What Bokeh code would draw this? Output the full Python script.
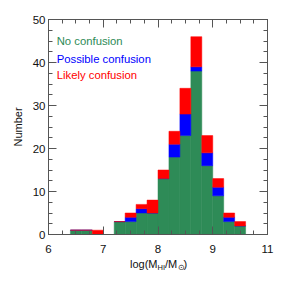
from bokeh.plotting import figure
from bokeh.layouts import column
from bokeh.models import FixedTicker, LinearAxis, Label, Range1d, ColumnDataSource
from bokeh.core.properties import value
from bokeh.embed import file_html
from bokeh.resources import INLINE

# Histogram bins (left edges, width 0.2 in log(MHI/Msun))
bin_left = [6.4, 6.6, 6.8, 7.0, 7.2, 7.4, 7.6, 7.8, 8.0, 8.2, 8.4, 8.6, 8.8, 9.0, 9.2, 9.4]
bin_width = 0.2
no_confusion = [1, 1, 0, 0, 3, 3, 5, 5, 13, 18, 23, 38, 16, 9, 3, 2]
possible_confusion = [0, 0, 0, 0, 0, 1, 1, 0, 0, 3, 5, 1, 3, 2, 1, 0]
likely_confusion = [0, 0, 1, 0, 0, 1, 1, 3, 2, 3, 6, 7, 4, 2, 1, 1]

x_ticks = [6, 7, 8, 9, 10]
x_tick_labels = {10: "11"}
y_ticks = [0, 10, 20, 30, 40, 50]

series_names = ["No confusion", "Possible confusion", "Likely confusion"]
colors = ["#2E8B57", "#0000FF", "#FF0000"]

src = ColumnDataSource(dict(
    x=[b + bin_width / 2 for b in bin_left],
    green=no_confusion, blue=possible_confusion, red=likely_confusion,
))

W = 283
BL, BR = 48, 16
H1 = 259
p = figure(width=W, height=H1, x_range=Range1d(6, 10), y_range=Range1d(0, 50),
           output_backend="svg", toolbar_location=None,
           min_border_left=BL, min_border_right=BR, min_border_top=19, min_border_bottom=25)

p.vbar_stack(["green", "blue", "red"], x="x", width=bin_width, color=colors,
             line_color=colors, line_width=0.5, source=src)

p.xgrid.visible = False
p.ygrid.visible = False
axis_col = "#555555"
p.outline_line_color = axis_col
p.background_fill_color = "white"
p.border_fill_color = "white"

x_minor = [6 + i * 0.25 for i in range(17)]
y_minor = [i * 2.5 for i in range(21)]
FONT = "Liberation Sans"

def style_axis(ax):
    ax.axis_line_color = axis_col
    ax.major_tick_line_color = axis_col
    ax.minor_tick_line_color = axis_col
    ax.major_tick_in = 8
    ax.major_tick_out = 0
    ax.minor_tick_in = 4
    ax.minor_tick_out = 0
    ax.major_label_text_font = FONT
    ax.major_label_text_font_size = "11.5px"
    ax.major_label_text_color = "#111111"
    ax.major_label_standoff = 4

xb = p.xaxis[0]
xb.ticker = FixedTicker(ticks=x_ticks, minor_ticks=x_minor)
xb.major_label_overrides = x_tick_labels
style_axis(xb)
xb.major_label_standoff = 10

yl = p.yaxis[0]
yl.ticker = FixedTicker(ticks=y_ticks, minor_ticks=y_minor)
style_axis(yl)
yl.major_label_standoff = 3
yl.axis_label = "Number"
yl.axis_label_text_font = FONT
yl.axis_label_text_font_size = "11px"
yl.axis_label_text_font_style = "normal"
yl.axis_label_text_color = "#111111"
yl.axis_label_standoff = 6

xt = LinearAxis(ticker=FixedTicker(ticks=x_ticks, minor_ticks=x_minor))
style_axis(xt)
xt.major_label_overrides = {t: "" for t in x_ticks}
xt.major_label_standoff = 0
p.add_layout(xt, "above")
yr = LinearAxis(ticker=FixedTicker(ticks=y_ticks, minor_ticks=y_minor))
style_axis(yr)
yr.major_label_overrides = {t: "" for t in y_ticks}
yr.major_label_standoff = 0
p.add_layout(yr, "right")

# legend texts
leg_y = [44.9, 40.9, 37.0]
for name, c, yy in zip(series_names, colors, leg_y):
    p.add_layout(Label(x=6.15, y=yy, text=name, text_color=c, text_font=FONT,
                       text_font_size="11.3px", text_baseline="middle"))

# x axis label strip: log(M_HI/M_sun), anchored at x=8 (centre of the axis label)
H2 = 24
p2 = figure(width=W, height=H2, x_range=Range1d(6, 10), y_range=Range1d(H2, 0),
            output_backend="svg", toolbar_location=None, x_axis_type=None, y_axis_type=None,
            min_border_left=BL, min_border_right=BR, min_border_top=0, min_border_bottom=0)
p2.outline_line_color = None
p2.xgrid.visible = False
p2.ygrid.visible = False
p2.background_fill_color = None
p2.border_fill_color = None
parts = [("log(M", "11px", -28.0, 4.5), ("HI", "7.5px", -0.5, 8.0),
         ("/M", "11px", 7.0, 4.5), ("\u2299", "7.5px", 19.5, 8.0), (")", "11px", 25.5, 4.5)]
for txt, fs, xo, yy in parts:
    p2.text(x=[8.0], y=[yy], x_offset=xo, text=[txt], text_font=value(FONT), text_font_size=fs,
            text_color="#111111", text_baseline="middle", text_align="left")

layout = column(p, p2, spacing=0)
open("out.html", "w").write(file_html(layout, INLINE))
